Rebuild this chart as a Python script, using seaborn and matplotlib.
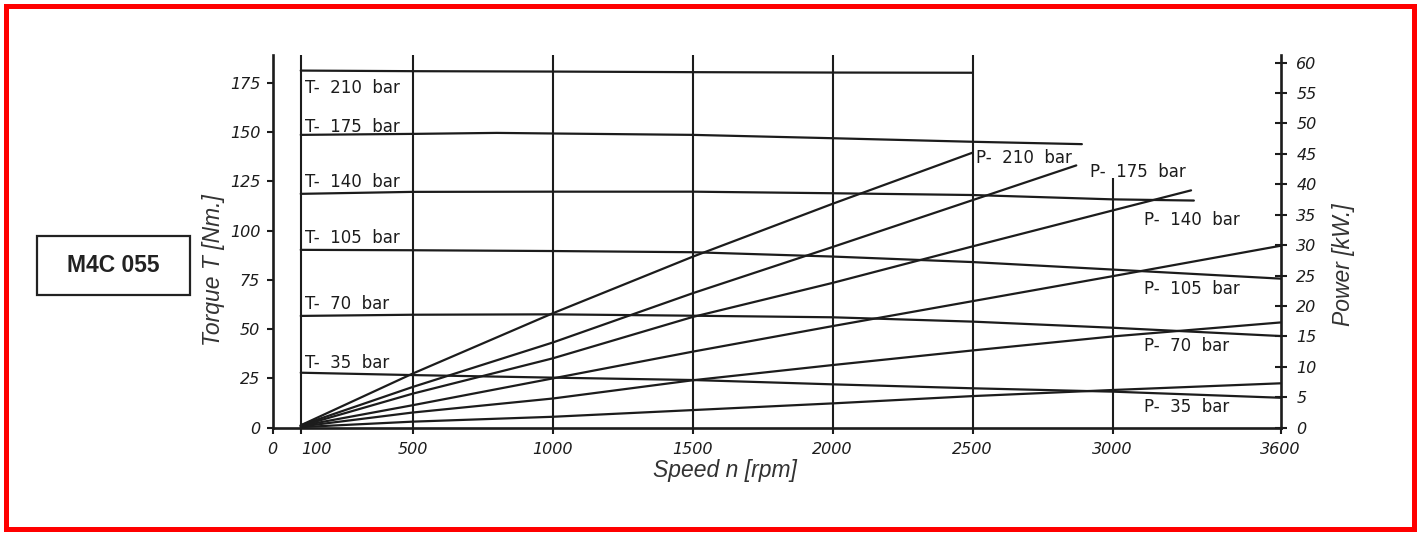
import numpy as np
import pandas as pd
import matplotlib
matplotlib.use("Agg")
import matplotlib.pyplot as plt
import matplotlib.transforms as mtransforms
from matplotlib.patches import Rectangle
import seaborn as sns

# ---------------- data ----------------
t210_speed = [100, 500, 1000, 1500, 2000, 2500]
t210_torque = [181.1, 180.8, 180.6, 180.3, 180.1, 180.0]
t175_speed = [100, 500, 800, 1000, 1500, 2000, 2500, 2890]
t175_torque = [148.5, 149.0, 149.5, 149.2, 148.5, 146.8, 145.0, 143.8]
t140_speed = [100, 500, 1000, 1500, 2000, 2500, 3000, 3290]
t140_torque = [118.6, 119.6, 119.7, 119.7, 118.9, 118.0, 115.8, 115.2]
t105_speed = [100, 500, 1000, 1500, 2000, 2500, 3000, 3600]
t105_torque = [90.2, 90.0, 89.6, 89.0, 86.8, 84.0, 80.2, 75.6]
t70_speed = [100, 500, 1000, 1500, 2000, 2500, 3000, 3600]
t70_torque = [56.7, 57.3, 57.5, 56.8, 56.0, 53.8, 50.7, 46.5]
t35_speed = [100, 500, 1000, 1500, 2000, 2500, 3000, 3600]
t35_torque = [27.9, 26.7, 25.4, 24.2, 22.0, 20.0, 18.3, 15.2]

p210_speed = [100, 500, 1000, 1500, 2000, 2500]
p210_power = [0.4, 8.9, 18.8, 28.1, 36.8, 45.2]
p175_speed = [100, 500, 1000, 1500, 2000, 2500, 2870]
p175_power = [0.4, 6.7, 14.0, 22.1, 29.7, 37.4, 43.1]
p140_speed = [100, 500, 1000, 1500, 2000, 2500, 3000, 3280]
p140_power = [0.3, 5.6, 11.4, 18.2, 23.8, 29.8, 35.7, 39.0]
p105_speed = [100, 500, 1000, 1500, 2000, 2500, 3000, 3600]
p105_power = [0.3, 3.7, 8.1, 12.5, 16.7, 20.8, 24.9, 29.9]
p70_speed = [100, 500, 1000, 1500, 2000, 2500, 3000, 3600]
p70_power = [0.2, 2.5, 4.8, 7.8, 10.3, 12.7, 15.0, 17.3]
p35_speed = [100, 500, 1000, 1500, 2000, 2500, 3000, 3600]
p35_power = [0.1, 1.0, 1.8, 2.9, 4.0, 5.2, 6.2, 7.3]

torque_labels = ["T-  210  bar", "T-  175  bar", "T-  140  bar",
                 "T-  105  bar", "T-  70  bar", "T-  35  bar"]
power_labels = ["P-  210  bar", "P-  175  bar", "P-  140  bar",
                "P-  105  bar", "P-  70  bar", "P-  35  bar"]

x_ticks = [0, 100, 500, 1000, 1500, 2000, 2500, 3000, 3600]
torque_ticks = [0, 25, 50, 75, 100, 125, 150, 175]
power_ticks = list(range(0, 61, 5))
model_name = "M4C 055"

# ---------------- build long tables ----------------
torque_df = pd.concat([
    pd.DataFrame({"speed": s, "torque": t, "curve": name})
    for name, s, t in [
        ("210", t210_speed, t210_torque), ("175", t175_speed, t175_torque),
        ("140", t140_speed, t140_torque), ("105", t105_speed, t105_torque),
        ("70", t70_speed, t70_torque), ("35", t35_speed, t35_torque)]
], ignore_index=True)
power_df = pd.concat([
    pd.DataFrame({"speed": s, "power": p, "curve": name})
    for name, s, p in [
        ("210", p210_speed, p210_power), ("175", p175_speed, p175_power),
        ("140", p140_speed, p140_power), ("105", p105_speed, p105_power),
        ("70", p70_speed, p70_power), ("35", p35_speed, p35_power)]
], ignore_index=True)

# ---------------- style ----------------
sns.set_theme(style="white")
plt.rcParams["font.family"] = ["DejaVu Sans"]
INK = "#1c1c1c"

fig = plt.figure(figsize=(14.19, 5.34), dpi=100)
fig.patch.set_facecolor("white")
ax = fig.add_axes([0.1922, 0.199, 0.9025 - 0.1922, 0.897 - 0.199])
ax.set_facecolor("none")

TORQUE_MAX = 189.0
POWER_MAX = 189.0 * 1.971 / 6.083

ax.set_xlim(0, 3600)
ax.set_ylim(0, TORQUE_MAX)

# grid lines
for gx in [100, 500, 1000, 1500, 2000, 2500]:
    ax.plot([gx, gx], [0, TORQUE_MAX], color=INK, lw=1.5, zorder=1,
            solid_capstyle="butt")
ax.plot([3000, 3000], [0, 126.5], color=INK, lw=1.5, zorder=1,
        solid_capstyle="butt")

sns.lineplot(data=torque_df, x="speed", y="torque", units="curve",
             estimator=None, color=INK, lw=1.6, ax=ax, zorder=3)

ax2 = ax.twinx()
ax2.set_ylim(0, POWER_MAX)
sns.lineplot(data=power_df, x="speed", y="power", units="curve",
             estimator=None, color=INK, lw=1.6, ax=ax2, zorder=3)

# spines
for a in (ax, ax2):
    a.spines["top"].set_visible(False)
    for s in ("left", "right", "bottom"):
        a.spines[s].set_color(INK)
        a.spines[s].set_linewidth(1.9)
ax.spines["right"].set_visible(False)
ax2.spines["left"].set_visible(False)
ax2.spines["bottom"].set_visible(False)

tick_font = dict(family="DejaVu Sans", style="oblique", size=11.5)

ax.set_xticks(x_ticks)
ax.set_xticklabels([str(v) for v in x_ticks], **tick_font)
ax.set_yticks(torque_ticks)
ax.set_yticklabels([str(v) for v in torque_ticks], **tick_font)
ax.tick_params(axis="x", direction="out", length=4, width=1.5, color=INK,
               pad=6, labelcolor=INK, bottom=True)
ax.tick_params(axis="y", direction="out", length=4, width=1.5, color=INK,
               pad=5, labelcolor=INK, left=True)
ax2.set_yticks(power_ticks)
ax2.set_yticklabels([str(v) for v in power_ticks], **tick_font)
ax2.tick_params(axis="y", direction="inout", length=8.5, width=1.5,
                color=INK, pad=7, labelcolor=INK, right=True)

# shift the "100" label to the right as in the reference
lbl = ax.xaxis.get_major_ticks()[1].label1
lbl.set_transform(lbl.get_transform() +
                  mtransforms.ScaledTranslation(0.16, 0, fig.dpi_scale_trans))

label_font = dict(family="Liberation Sans", style="italic", size=16.5,
                  color="#333333")
ax.set_xlabel("Speed n [rpm]", **label_font)
ax.set_ylabel("Torque T [Nm.]", **label_font)
ax2.set_ylabel("Power [kW.]", **label_font)
ax.xaxis.set_label_coords(0.449, -0.083)
ax.yaxis.set_label_coords(-0.047, 0.423)
ax2.yaxis.set_label_coords(1.051, 0.437)

# curve labels (positions in torque-axis data units)
curve_font = dict(family="DejaVu Sans", size=12, color=INK)
t_label_y = [169.8, 150.0, 122.1, 93.7, 60.2, 30.4]
for txt, yy in zip(torque_labels, t_label_y):
    ax.text(115, yy, txt, ha="left", va="baseline", zorder=5, **curve_font)
p_label_xy = [(2512, 134.4), (2919, 127.0), (3113, 102.8),
              (3113, 67.8), (3113, 39.1), (3113, 8.1)]
for txt, (xx, yy) in zip(power_labels, p_label_xy):
    ax.text(xx, yy, txt, ha="left", va="baseline", zorder=5, **curve_font)

# model box
fig.patches.append(Rectangle((0.0259, 0.4476), 0.1080, 0.1100,
                             transform=fig.transFigure, fill=False,
                             edgecolor="#222222", lw=1.6))
fig.text(0.0796, 0.502, model_name, ha="center", va="center",
         family="Liberation Sans", weight="bold", size=16.5, color="#222222")

# red frame
fig.patches.append(Rectangle((0.0039, 0.0094), 0.9926, 0.9803,
                             transform=fig.transFigure, fill=False,
                             edgecolor="#ff0000", lw=3.6))

fig.savefig("out.png", dpi=100, facecolor="white")
